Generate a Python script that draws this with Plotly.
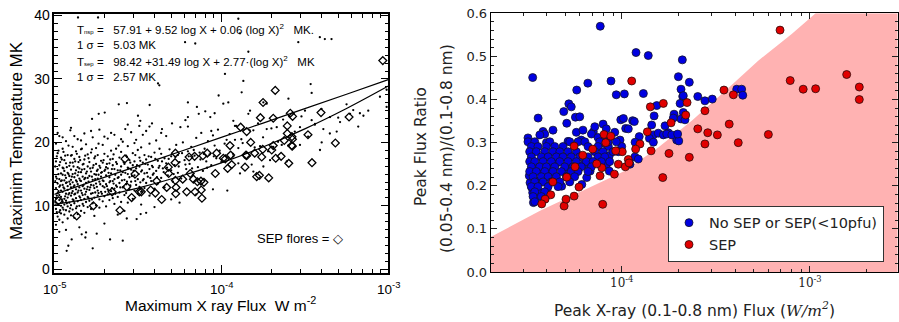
import plotly.graph_objects as go

W, H = 899, 322

# ---------------- Left panel data (log10 flux, temperature MK) ----------------
nonsep_points = [
    (-4.99, 7.0), (-4.99, 9.5), (-4.99, 11.2), (-4.99, 12.8), (-4.99, 14.6), (-4.99, 17.0), (-4.99, 19.8),
    (-4.98, 8.3), (-4.98, 10.3), (-4.98, 12.0), (-4.98, 13.5), (-4.98, 15.8), (-4.98, 18.3), (-4.98, 21.5),
    (-4.97, 7.8), (-4.97, 9.0), (-4.97, 10.9), (-4.97, 11.7), (-4.97, 13.0), (-4.97, 14.2), (-4.97, 16.4), (-4.97, 21.0),
    (-4.96, 8.8), (-4.96, 10.0), (-4.96, 11.4), (-4.96, 12.4), (-4.96, 13.9), (-4.96, 15.1), (-4.96, 17.6),
    (-4.95, 7.4), (-4.95, 9.7), (-4.95, 10.6), (-4.95, 12.2), (-4.95, 13.3), (-4.95, 14.9), (-4.95, 16.0), (-4.95, 19.0), (-4.95, 20.8),
    (-4.94, 8.6), (-4.94, 10.2), (-4.94, 11.1), (-4.94, 12.7), (-4.94, 14.0), (-4.94, 15.5), (-4.94, 17.2),
    (-4.93, 9.3), (-4.93, 10.8), (-4.93, 11.9), (-4.93, 13.6), (-4.93, 14.4), (-4.93, 16.7), (-4.93, 20.2),
    (-4.92, 8.0), (-4.92, 9.9), (-4.92, 11.3), (-4.92, 12.5), (-4.92, 13.1), (-4.92, 15.2), (-4.92, 18.0),
    (-4.91, 9.1), (-4.91, 10.5), (-4.91, 12.0), (-4.91, 13.8), (-4.91, 14.7), (-4.91, 16.3),
    (-4.90, 8.5), (-4.90, 10.1), (-4.90, 11.6), (-4.90, 12.9), (-4.90, 14.1), (-4.90, 15.7), (-4.90, 17.9), (-4.90, 22.3),
    (-4.89, 9.4), (-4.89, 11.0), (-4.89, 12.3), (-4.89, 13.7), (-4.89, 15.0), (-4.89, 16.8), (-4.89, 19.3),
    (-4.88, 8.1), (-4.88, 10.4), (-4.88, 11.8), (-4.88, 13.2), (-4.88, 14.5), (-4.88, 17.4), (-4.88, 21.0),
    (-4.87, 9.6), (-4.87, 11.2), (-4.87, 12.6), (-4.87, 14.0), (-4.87, 15.6), (-4.87, 18.6),
    (-4.86, 8.7), (-4.86, 10.7), (-4.86, 12.1), (-4.86, 13.4), (-4.86, 14.8), (-4.86, 16.1), (-4.86, 20.5),
    (-4.85, 10.0), (-4.85, 11.5), (-4.85, 12.9), (-4.85, 14.3), (-4.85, 15.9), (-4.85, 17.7),
    (-4.84, 9.2), (-4.84, 10.9), (-4.84, 12.4), (-4.84, 13.9), (-4.84, 15.3), (-4.84, 18.9), (-4.84, 20.3),
    (-4.83, 10.3), (-4.83, 11.7), (-4.83, 13.1), (-4.83, 14.6), (-4.83, 16.5),
    (-4.82, 8.9), (-4.82, 11.1), (-4.82, 12.7), (-4.82, 14.2), (-4.82, 15.8), (-4.82, 17.3), (-4.82, 21.4),
    (-4.81, 10.6), (-4.81, 12.2), (-4.81, 13.6), (-4.81, 15.1), (-4.81, 19.7),
    (-4.80, 9.8), (-4.80, 11.4), (-4.80, 13.0), (-4.80, 14.4), (-4.80, 16.2), (-4.80, 18.1),
    (-4.79, 10.8), (-4.79, 12.5), (-4.79, 14.7), (-4.79, 16.9),
    (-4.78, 9.5), (-4.78, 11.9), (-4.78, 13.3), (-4.78, 15.4), (-4.78, 18.4), (-4.78, 21.8),
    (-4.77, 10.4), (-4.77, 12.0), (-4.77, 14.1), (-4.77, 16.0), (-4.77, 20.8),
    (-4.76, 8.4), (-4.76, 11.3), (-4.76, 12.8), (-4.76, 15.0), (-4.76, 17.5),
    (-4.75, 10.1), (-4.75, 13.5), (-4.75, 14.9), (-4.75, 16.6), (-4.75, 19.1),
    (-4.74, 11.6), (-4.74, 12.4), (-4.74, 14.3), (-4.74, 15.7), (-4.74, 18.0),
    (-4.73, 9.7), (-4.73, 11.0), (-4.73, 13.8), (-4.73, 16.3), (-4.73, 22.0),
    (-4.72, 12.2), (-4.72, 14.6), (-4.72, 15.2), (-4.72, 17.1),
    (-4.71, 10.7), (-4.71, 13.1), (-4.71, 14.0), (-4.71, 16.8), (-4.71, 19.6),
    (-4.70, 11.5), (-4.70, 12.9), (-4.70, 15.5), (-4.70, 18.2), (-4.70, 20.9),
    (-4.69, 9.9), (-4.69, 13.4), (-4.69, 14.8), (-4.69, 16.1),
    (-4.68, 11.8), (-4.68, 12.6), (-4.68, 15.9), (-4.68, 17.8), (-4.68, 20.6),
    (-4.67, 10.9), (-4.67, 13.7), (-4.67, 14.5), (-4.67, 16.7),
    (-4.66, 12.3), (-4.66, 15.1), (-4.66, 18.7), (-4.66, 21.5),
    (-4.65, 11.2), (-4.65, 13.9), (-4.65, 16.4), (-4.65, 17.4),
    (-4.64, 10.3), (-4.64, 12.7), (-4.64, 14.2), (-4.64, 15.8), (-4.64, 21.2),
    (-4.63, 13.2), (-4.63, 16.9), (-4.63, 19.0),
    (-4.62, 11.4), (-4.62, 14.4), (-4.62, 15.6),
    (-4.61, 12.1), (-4.61, 13.6), (-4.61, 17.6),
    (-4.60, 10.6), (-4.60, 14.9), (-4.60, 16.2), (-4.60, 18.5), (-4.60, 20.5),
    (-4.59, 12.9), (-4.59, 15.3), (-4.59, 20.1),
    (-4.58, 11.7), (-4.58, 14.1), (-4.58, 16.6),
    (-4.57, 13.4), (-4.57, 17.9), (-4.57, 12.0),
    (-4.56, 10.5), (-4.56, 15.0), (-4.56, 16.0), (-4.56, 19.4), (-4.56, 22.8),
    (-4.55, 12.6), (-4.55, 14.5), (-4.55, 17.2),
    (-4.54, 13.8), (-4.54, 15.7), (-4.54, 21.6),
    (-4.53, 11.1), (-4.53, 16.4), (-4.53, 18.3),
    (-4.52, 12.4), (-4.52, 14.8), (-4.52, 17.0), (-4.52, 19.9),
    (-4.51, 13.3), (-4.51, 15.9), (-4.51, 20.4),
    (-4.50, 11.9), (-4.50, 14.2), (-4.50, 18.8),
    (-4.49, 13.0), (-4.49, 16.2), (-4.49, 17.6),
    (-4.48, 12.2), (-4.48, 15.4), (-4.48, 19.2), (-4.48, 10.2),
    (-4.47, 14.0), (-4.47, 16.8), (-4.47, 21.2),
    (-4.46, 12.8), (-4.46, 15.1), (-4.46, 18.0),
    (-4.45, 13.6), (-4.45, 17.3), (-4.45, 21.8), (-4.45, 8.9),
    (-4.44, 14.6), (-4.44, 16.5),
    (-4.43, 11.6), (-4.43, 15.8), (-4.43, 19.8), (-4.43, 22.5),
    (-4.42, 13.9), (-4.42, 17.7),
    (-4.41, 14.9), (-4.41, 16.1),
    (-4.40, 12.7), (-4.40, 18.4), (-4.40, 9.8),
    (-4.39, 15.5), (-4.39, 20.3), (-4.38, 13.5), (-4.38, 17.1), (-4.37, 16.3), (-4.37, 19.0),
    (-4.36, 14.4), (-4.36, 18.2), (-4.36, 21.5), (-4.35, 15.9), (-4.34, 12.9), (-4.34, 17.5),
    (-4.33, 16.7), (-4.33, 21.0), (-4.32, 14.8), (-4.31, 18.9), (-4.30, 15.6), (-4.30, 17.8), (-4.30, 11.0),
    (-4.29, 13.8), (-4.28, 16.4), (-4.27, 19.6), (-4.26, 15.2), (-4.26, 18.0), (-4.25, 16.9), (-4.25, 10.5),
    (-4.24, 14.3), (-4.23, 20.0), (-4.22, 17.2), (-4.21, 15.8), (-4.20, 18.6), (-4.20, 22.5),
    (-4.19, 16.6), (-4.18, 19.3), (-4.17, 14.9), (-4.16, 17.9), (-4.15, 20.7), (-4.15, 11.8), (-4.14, 16.1),
    (-4.13, 18.4), (-4.12, 21.5), (-4.11, 15.5), (-4.10, 19.0), (-4.09, 17.0), (-4.08, 20.2), (-4.07, 18.1),
    (-4.06, 16.4), (-4.05, 21.1), (-4.05, 12.6), (-4.04, 19.5), (-4.03, 17.5), (-4.02, 22.0), (-4.01, 18.7), (-4.00, 16.9),
    (-3.98, 19.8), (-3.95, 21.3), (-3.93, 18.2), (-3.91, 22.6), (-3.88, 20.5), (-3.86, 17.6), (-3.83, 21.9),
    (-3.80, 19.2), (-3.78, 23.0), (-3.75, 20.8), (-3.72, 18.6), (-3.70, 22.2), (-3.66, 20.1), (-3.63, 23.6),
    (-3.60, 19.5), (-3.56, 21.7), (-3.52, 24.1), (-3.48, 20.9), (-3.44, 22.8), (-3.40, 25.3), (-3.35, 21.4),
    (-3.30, 23.9), (-3.25, 26.0), (-3.18, 22.5), (-3.12, 25.0), (-3.05, 27.2),
    (-4.614, 26.0), (-4.565, 26.2), (-4.429, 25.9), (-4.200, 26.3), (-4.146, 25.6), (-4.016, 27.4),
    (-4.774, 23.7), (-4.734, 24.5), (-4.698, 24.7), (-4.499, 24.2), (-4.485, 23.4), (-4.491, 22.6),
    (-4.415, 23.0), (-4.379, 29.3), (-4.371, 29.0), (-4.156, 35.6), (-4.738, 39.7), (-4.858, 39.7),
    (-4.904, 21.9), (-4.200, 24.0), (-4.135, 24.5), (-4.096, 24.9), (-4.066, 24.0), (-4.040, 24.6),
    (-4.215, 23.5), (-4.295, 23.0), (-4.060, 21.8), (-4.355, 22.1), (-4.245, 22.4), (-4.575, 22.1),
    (-3.898, 39.5), (-3.539, 35.8), (-3.410, 36.6), (-3.380, 36.3), (-3.340, 36.3), (-3.838, 34.3),
    (-4.217, 35.8), (-3.888, 37.2), (-3.978, 30.8), (-3.868, 29.7), (-3.878, 27.9), (-3.465, 29.2),
    (-3.598, 26.9), (-3.349, 24.0), (-3.289, 23.2), (-3.229, 24.5), (-3.149, 24.2), (-3.499, 25.0),
    (-3.459, 23.5), (-3.439, 22.9), (-3.748, 26.3), (-3.728, 26.1), (-3.828, 25.0), (-3.838, 24.5),
    (-3.928, 23.4), (-3.958, 26.3), (-3.988, 26.1), (-3.918, 22.6), (-3.808, 21.9), (-3.728, 22.1),
    (-3.668, 22.4), (-3.529, 22.4), (-3.389, 22.1), (-3.010, 28.3), (-3.210, 25.1), (-3.170, 24.6),
    (-3.459, 27.8), (-3.010, 25.6),
    (-3.309, 21.7), (-3.399, 20.0), (-3.529, 19.6), (-3.638, 19.6), (-3.689, 19.3), (-3.768, 19.4),
    (-3.898, 19.1), (-3.918, 20.4), (-3.872, 19.9), (-3.968, 20.4), (-3.928, 17.8), (-3.898, 16.7),
    (-3.818, 16.5), (-3.708, 17.2), (-3.608, 17.0), (-3.808, 15.4), (-3.964, 12.4), (-3.888, 15.1),
    (-3.748, 16.2), (-3.409, 18.8),
    (-4.483, 8.7), (-4.507, 7.9), (-4.566, 8.0), (-4.666, 4.7), (-4.590, 4.5), (-4.810, 5.8),
    (-4.836, 5.5), (-4.896, 4.7), (-4.916, 3.7), (-4.926, 2.9), (-4.770, 3.3), (-4.746, 5.6),
    (-4.814, 5.0), (-4.58, 9.2), (-4.62, 8.6), (-4.70, 7.2), (-4.85, 6.6), (-4.93, 6.2), (-4.97, 5.9),
    (-4.995, 10.6), (-4.995, 13.9), (-4.995, 16.2), (-4.985, 9.0), (-4.985, 11.6), (-4.985, 14.3), (-4.985, 17.8),
    (-4.975, 12.3), (-4.975, 15.0), (-4.975, 18.7), (-4.965, 9.3), (-4.965, 13.2), (-4.965, 16.9),
    (-4.955, 11.0), (-4.955, 14.0), (-4.955, 17.3), (-4.945, 9.4), (-4.945, 12.9), (-4.945, 15.9), (-4.945, 18.5),
    (-4.935, 11.5), (-4.935, 14.8), (-4.935, 17.9), (-4.925, 10.4), (-4.925, 13.7), (-4.925, 16.1),
    (-4.915, 11.8), (-4.915, 15.0), (-4.915, 19.5), (-4.905, 9.6), (-4.905, 13.4), (-4.905, 16.8),
    (-4.895, 12.0), (-4.895, 14.6), (-4.895, 18.0), (-4.885, 10.9), (-4.885, 13.0), (-4.885, 16.2),
    (-4.875, 11.9), (-4.875, 15.1), (-4.875, 17.0), (-4.865, 9.9), (-4.865, 13.8), (-4.865, 18.2),
    (-4.855, 12.4), (-4.855, 15.3), (-4.855, 16.9), (-4.845, 11.3), (-4.845, 14.0), (-4.845, 17.2),
    (-4.835, 12.0), (-4.835, 15.7), (-4.835, 19.0), (-4.825, 10.0), (-4.825, 13.3), (-4.825, 16.6),
    (-4.815, 11.8), (-4.815, 14.4), (-4.815, 17.9), (-4.805, 12.6), (-4.805, 15.4), (-4.795, 11.2),
    (-4.795, 13.8), (-4.795, 17.5), (-4.785, 12.9), (-4.785, 15.9), (-4.775, 11.0), (-4.775, 14.6),
    (-4.775, 18.9), (-4.765, 13.2), (-4.765, 16.4), (-4.755, 12.1), (-4.755, 14.2), (-4.755, 17.8),
    (-4.745, 13.0), (-4.745, 15.5), (-4.735, 12.0), (-4.735, 14.9), (-4.735, 19.8), (-4.725, 13.4),
    (-4.725, 16.0), (-4.715, 11.9), (-4.715, 15.3), (-4.705, 13.9), (-4.705, 17.2), (-4.695, 12.2),
    (-4.695, 15.7), (-4.685, 13.1), (-4.685, 16.6), (-4.675, 12.4), (-4.675, 15.2), (-4.665, 13.9),
    (-4.665, 17.3), (-4.655, 12.8), (-4.655, 15.8), (-4.645, 13.5), (-4.645, 18.1), (-4.635, 11.9),
    (-4.635, 14.9), (-4.625, 13.0), (-4.625, 16.6), (-4.615, 14.5), (-4.615, 19.5), (-4.605, 12.9),
    (-4.605, 15.6), (-4.595, 14.0), (-4.585, 13.0), (-4.585, 16.9), (-4.575, 15.2), (-4.565, 13.8),
    (-4.565, 17.7), (-4.555, 15.9), (-4.545, 13.2), (-4.545, 16.8), (-4.535, 14.7), (-4.525, 15.5),
    (-4.515, 13.9), (-4.515, 18.0), (-4.505, 16.4), (-4.495, 15.0), (-4.485, 13.7), (-4.485, 17.1),
    (-4.475, 15.6), (-4.465, 14.2), (-4.455, 16.6), (-4.445, 15.2), (-4.435, 17.8), (-4.425, 14.4),
    (-4.415, 16.3), (-4.405, 15.1), (-4.395, 17.4), (-4.385, 14.5), (-4.375, 16.0), (-4.355, 17.0),
    (-4.345, 15.3), (-4.325, 16.0), (-4.315, 17.4), (-4.285, 15.0), (-4.275, 17.7), (-4.255, 16.2),
    (-4.235, 18.3), (-4.215, 16.5), (-4.195, 17.8), (-4.175, 15.9), (-4.165, 18.8), (-4.125, 17.3),
    (-4.105, 18.2), (-4.085, 16.0), (-4.045, 17.8),
]

sep_flare_points = [
    (-3.033, 32.9), (-3.750, 26.3), (-3.677, 28.2), (-3.766, 23.9), (-3.689, 23.8), (-3.587, 24.6),
    (-3.573, 24.1), (-3.403, 24.7), (-3.235, 24.0), (-3.884, 22.4), (-3.848, 21.7), (-3.605, 22.6),
    (-3.948, 19.5), (-3.824, 20.0), (-3.577, 20.9), (-3.574, 20.5), (-3.481, 21.2), (-3.317, 19.9),
    (-3.605, 21.4), (-3.578, 19.5), (-3.689, 19.5), (-3.752, 18.9), (-3.852, 18.0), (-3.800, 18.3),
    (-3.758, 17.7), (-3.642, 17.8), (-3.944, 18.0), (-3.976, 17.4), (-4.028, 18.3), (-4.084, 18.3),
    (-4.110, 17.9), (-4.160, 17.8), (-4.193, 17.7), (-4.275, 18.3), (-4.577, 17.4),
    (-3.858, 16.1), (-3.788, 14.6), (-3.716, 14.4), (-3.596, 16.7), (-3.457, 16.8), (-3.938, 16.5),
    (-3.962, 15.9), (-4.036, 15.1), (-4.122, 13.9), (-4.120, 12.5), (-4.157, 12.2), (-4.207, 12.2),
    (-4.273, 11.9), (-4.167, 14.2), (-4.231, 14.2), (-4.271, 12.9), (-4.327, 12.9), (-4.387, 13.9),
    (-4.357, 11.0), (-4.395, 12.0), (-4.423, 12.5), (-4.479, 12.2), (-4.537, 11.3), (-4.607, 9.3),
    (-4.517, 15.0), (-4.566, 13.0), (-4.866, 8.4), (-4.766, 10.0), (-4.317, 16.1), (-4.277, 16.8),
    (-4.974, 10.8), (-4.654, 12.2), (-4.491, 12.2), (-4.275, 14.0), (-4.116, 11.2), (-4.143, 13.8),
    (-4.104, 13.7), (-4.186, 15.1), (-4.315, 15.1), (-3.988, 17.5), (-3.848, 17.9), (-3.698, 18.8),
    (-3.674, 17.5), (-3.623, 20.3), (-3.575, 19.4), (-3.772, 14.8),
]

# Fit curves (log10 flux, MK)
fit_log_flux = [-5.0, -4.75, -4.5, -4.25, -4.0, -3.75, -3.5, -3.25, -3.0]
fit_nonsep_temp = [11.81, 14.04, 16.29, 18.53, 20.79, 23.05, 25.33, 27.60, 29.89]
fit_sep_temp = [10.22, 11.34, 12.80, 14.62, 16.78, 19.28, 22.13, 25.34, 28.88]

left_tick_exponents = [-5, -4, -3]

# ---------------- Right panel data (log10 flux, flux ratio) ----------------
no_sep_points = [
    (-4.114, 0.570), (-4.473, 0.451), (-3.924, 0.509), (-3.859, 0.502), (-3.678, 0.492), (-3.699, 0.453),
    (-3.641, 0.440), (-4.057, 0.443), (-4.180, 0.438), (-4.239, 0.422), (-3.685, 0.424), (-3.676, 0.407),
    (-3.596, 0.407), (-3.558, 0.397), (-3.519, 0.401), (-3.986, 0.413), (-4.029, 0.411), (-3.885, 0.414),
    (-3.389, 0.424), (-3.363, 0.424), (-3.357, 0.410), (-3.690, 0.391), (-3.673, 0.370), (-3.685, 0.355),
    (-3.828, 0.362), (-3.841, 0.341), (-3.814, 0.386), (-4.005, 0.353), (-3.991, 0.356), (-3.979, 0.333),
    (-3.942, 0.351), (-3.907, 0.314), (-3.912, 0.297), (-3.832, 0.318), (-3.806, 0.322), (-3.779, 0.318),
    (-3.753, 0.323), (-3.722, 0.366), (-3.770, 0.339), (-3.708, 0.306), (-3.697, 0.304), (-3.853, 0.310),
    (-4.009, 0.306), (-4.000, 0.291), (-4.018, 0.279), (-4.151, 0.325), (-4.106, 0.308), (-4.089, 0.298),
    (-4.071, 0.291), (-4.066, 0.270), (-3.930, 0.267),
    (-4.281, 0.390), (-4.268, 0.383), (-4.308, 0.372), (-4.246, 0.359), (-4.223, 0.360), (-4.444, 0.357),
    (-4.292, 0.345), (-4.365, 0.329), (-4.418, 0.326), (-4.409, 0.320), (-4.435, 0.318), (-4.498, 0.311),
    (-4.241, 0.324), (-4.206, 0.329), (-4.143, 0.337), (-4.099, 0.343), (-4.082, 0.332), (-4.037, 0.324),
    (-4.161, 0.320), (-4.126, 0.312), (-4.285, 0.303), (-4.215, 0.306), (-4.400, 0.300),
    (-3.933, 0.349), (-3.965, 0.332), (-3.726, 0.357), (-3.664, 0.353), (-3.929, 0.301), (-3.912, 0.262),
    (-3.956, 0.250), (-3.832, 0.301), (-3.761, 0.320), (-3.734, 0.318), (-3.703, 0.320), (-3.673, 0.409),
    (-4.469, 0.161), (-4.460, 0.172), (-4.473, 0.184), (-4.478, 0.196), (-4.487, 0.207), (-4.491, 0.223),
    (-4.478, 0.234), (-4.451, 0.244), (-4.416, 0.234), (-4.390, 0.223), (-4.381, 0.242), (-4.345, 0.253),
    (-4.319, 0.199), (-4.310, 0.234), (-4.275, 0.242), (-4.212, 0.203), (-4.186, 0.219), (-4.168, 0.234),
    (-4.200, 0.250), (-4.080, 0.250), (-4.066, 0.234), (-4.443, 0.211), (-4.434, 0.184), (-4.398, 0.184),
    (-4.451, 0.199),
    (-4.498, 0.302), (-4.462, 0.302), (-4.382, 0.302), (-4.276, 0.302), (-4.232, 0.302), (-4.196, 0.302),
    (-4.117, 0.302), (-4.073, 0.302), (-4.029, 0.302),
    (-4.480, 0.291), (-4.445, 0.291), (-4.400, 0.291), (-4.356, 0.291), (-4.312, 0.291), (-4.179, 0.291),
    (-4.126, 0.291),
    (-4.489, 0.279), (-4.454, 0.279), (-4.409, 0.279), (-4.365, 0.279), (-4.329, 0.279), (-4.285, 0.279),
    (-4.241, 0.279), (-4.143, 0.279), (-4.099, 0.279), (-4.046, 0.279),
    (-4.480, 0.267), (-4.427, 0.267), (-4.391, 0.267), (-4.347, 0.267), (-4.312, 0.267), (-4.268, 0.267),
    (-4.223, 0.267), (-4.179, 0.267), (-4.126, 0.267), (-4.090, 0.267),
    (-4.489, 0.256), (-4.462, 0.256), (-4.418, 0.256), (-4.374, 0.256), (-4.329, 0.256), (-4.285, 0.256),
    (-4.241, 0.256), (-4.188, 0.256), (-4.152, 0.256), (-4.108, 0.256), (-4.064, 0.256),
    (-4.480, 0.244), (-4.436, 0.244), (-4.400, 0.244), (-4.356, 0.244), (-4.303, 0.244), (-4.259, 0.244),
    (-4.215, 0.244), (-4.161, 0.244),
    (-4.489, 0.233), (-4.454, 0.233), (-4.409, 0.233), (-4.365, 0.233), (-4.321, 0.233), (-4.268, 0.233),
    (-4.232, 0.233), (-4.179, 0.233),
    (-4.471, 0.221), (-4.427, 0.221), (-4.391, 0.221), (-4.347, 0.221), (-4.294, 0.221), (-4.250, 0.221),
    (-4.462, 0.209), (-4.418, 0.209), (-4.374, 0.209), (-4.329, 0.209), (-4.276, 0.209),
    (-4.480, 0.198), (-4.445, 0.198), (-4.391, 0.198), (-4.338, 0.198),
    (-4.462, 0.186), (-4.409, 0.186), (-4.471, 0.175), (-4.427, 0.175), (-4.462, 0.163),
]

sep_points = [
    (-3.947, 0.443), (-3.159, 0.561), (-2.805, 0.458), (-3.105, 0.444), (-3.036, 0.424), (-2.970, 0.425),
    (-2.738, 0.429), (-2.738, 0.400), (-3.457, 0.422), (-3.407, 0.411), (-3.779, 0.391), (-3.848, 0.383),
    (-3.653, 0.393), (-3.660, 0.364), (-3.738, 0.346), (-3.558, 0.374), (-3.596, 0.332), (-3.543, 0.323),
    (-3.558, 0.297), (-3.492, 0.318), (-3.429, 0.343), (-3.381, 0.300), (-3.221, 0.319), (-3.864, 0.325),
    (-3.903, 0.297), (-3.926, 0.285), (-3.997, 0.279), (-4.032, 0.281), (-4.085, 0.300), (-4.094, 0.319),
    (-4.058, 0.315), (-4.253, 0.292), (-4.207, 0.271), (-4.154, 0.285), (-3.749, 0.275), (-3.641, 0.266),
    (-3.965, 0.261), (-3.844, 0.281),
    (-3.782, 0.219), (-4.101, 0.157), (-4.306, 0.153), (-4.296, 0.169), (-4.253, 0.176), (-4.227, 0.197),
    (-4.366, 0.209), (-4.377, 0.179), (-4.407, 0.169), (-4.425, 0.158), (-4.292, 0.220), (-4.248, 0.244),
    (-4.115, 0.223), (-4.106, 0.242), (-4.133, 0.251), (-4.039, 0.227), (-4.018, 0.250), (-3.981, 0.244),
    (-3.961, 0.253),
]

# Boundary of shaded region (log10 flux, ratio)
boundary_log_flux = [-4.696, -4.434, -3.982, -3.806, -3.628, -3.451, -3.275, -3.097, -2.991, -2.970]
boundary_ratio = [0.081, 0.142, 0.235, 0.289, 0.351, 0.420, 0.490, 0.552, 0.594, 0.600]

left_xrange = [-5.0, -3.0]
left_yrange = [-0.55, 40.25]
right_xrange = [-4.696, -2.534]
right_yrange = [0.0, 0.6]

log_minor_vals = [m * 10 ** e for e in (-5, -4, -3) for m in range(2, 10)]


def px(x):
    return x / W


def py(y):
    return 1 - y / H


def unz(points):
    return [10 ** p[0] for p in points], [p[1] for p in points]


fig = go.Figure()

# ---- left panel ----
x, y = unz(nonsep_points)
fig.add_trace(go.Scatter(x=x, y=y, mode="markers", xaxis="x", yaxis="y", showlegend=False,
                         marker=dict(size=2.3, color="black"), hoverinfo="skip"))
x, y = unz(sep_flare_points)
fig.add_trace(go.Scatter(x=x, y=y, mode="markers", xaxis="x", yaxis="y", showlegend=False,
                         marker=dict(symbol="diamond-open", size=6, color="black", line=dict(width=1.3)),
                         hoverinfo="skip"))
fx = [10 ** v for v in fit_log_flux]
fig.add_trace(go.Scatter(x=fx, y=fit_nonsep_temp, mode="lines", line=dict(color="black", width=1.2, shape="spline"),
                         xaxis="x", yaxis="y", showlegend=False, hoverinfo="skip"))
fig.add_trace(go.Scatter(x=fx, y=fit_sep_temp, mode="lines", line=dict(color="black", width=1.2, shape="spline"),
                         xaxis="x", yaxis="y", showlegend=False, hoverinfo="skip"))

# ---- right panel ----
bx = [10 ** right_xrange[0]] + [10 ** v for v in boundary_log_flux] + [10 ** right_xrange[1], 10 ** right_xrange[1], 10 ** right_xrange[0]]
by = [0.0] + boundary_ratio + [right_yrange[1], 0.0, 0.0]
fig.add_trace(go.Scatter(x=bx, y=by, mode="lines", fill="toself", fillcolor="rgb(255,178,178)",
                         line=dict(width=0), xaxis="x2", yaxis="y2", showlegend=False, hoverinfo="skip"))
x, y = unz(no_sep_points)
fig.add_trace(go.Scatter(x=x, y=y, mode="markers", name="No SEP or SEP(&lt;10pfu)", xaxis="x2", yaxis="y2",
                         marker=dict(size=8, color="rgb(0,0,225)", line=dict(color="rgb(20,20,40)", width=0.8))))
x, y = unz(sep_points)
fig.add_trace(go.Scatter(x=x, y=y, mode="markers", name="SEP", xaxis="x2", yaxis="y2",
                         marker=dict(size=8, color="rgb(225,0,0)", line=dict(color="rgb(40,10,10)", width=0.8))))

left_font = dict(family="Liberation Sans, Arial, sans-serif", color="black")
right_font = dict(family="DejaVu Sans, sans-serif", color="#222")

common_axis = dict(showgrid=False, zeroline=False, showline=True, mirror="allticks", ticks="inside",
                   automargin=False)

fig.update_layout(
    template="none",
    width=W, height=H, margin=dict(l=0, r=0, t=0, b=0, pad=0, autoexpand=False),
    paper_bgcolor="white", plot_bgcolor="white",
    xaxis=dict(**common_axis, type="log", range=left_xrange, domain=[px(54.3), px(388.3)],
               linecolor="black", linewidth=1.5, ticklen=8, tickwidth=1.2, tickcolor="black",
               tickvals=[10.0 ** e for e in left_tick_exponents], showticklabels=False, anchor="y",
               minor=dict(ticks="inside", ticklen=4, tickcolor="black", tickwidth=1, showgrid=False,
                          tickmode="array", tickvals=log_minor_vals)),
    yaxis=dict(**common_axis, range=left_yrange, domain=[py(272.7), py(14)],
               linecolor="black", linewidth=1.5, ticklen=8, tickwidth=1.2, tickcolor="black",
               tickvals=[0, 10, 20, 30, 40], tickfont=dict(size=14, **left_font), anchor="x",
               minor=dict(ticks="inside", ticklen=4, tickcolor="black", dtick=1.25, tick0=0, showgrid=False)),
    xaxis2=dict(**common_axis, type="log", range=right_xrange, domain=[px(490.7), px(897.7)],
                linecolor="black", linewidth=1, ticklen=6, tickwidth=1, tickcolor="#222",
                tickvals=[1e-4, 1e-3], ticktext=["10<sup>-4</sup>", "10<sup>-3</sup>"],
                tickfont=dict(size=12, family="DejaVu Serif, serif", color="#222"), anchor="y2",
                minor=dict(ticks="inside", ticklen=3, tickcolor="#222", showgrid=False,
                           tickmode="array", tickvals=log_minor_vals)),
    yaxis2=dict(**common_axis, range=right_yrange, domain=[py(272), py(13.3)],
                linecolor="black", linewidth=1, ticklen=6, tickwidth=1, tickcolor="#222",
                tickvals=[0, 0.1, 0.2, 0.3, 0.4, 0.5, 0.6], tickformat=".1f",
                tickfont=dict(size=13, **right_font), anchor="x2",
                minor=dict(ticks="inside", ticklen=3, tickcolor="#222", dtick=0.02, tick0=0, showgrid=False)),
    legend=dict(x=px(884), y=py(261.7), xanchor="right", yanchor="bottom",
                bgcolor="white", bordercolor="#333", borderwidth=1,
                font=dict(size=14.5, family="DejaVu Sans, sans-serif", color="#222")),
)

nb = "\u00a0"
ann = [
    dict(x=px(16), y=py(141), text="Maximim Temperature MK", textangle=-90,
         font=dict(size=17, **left_font)),
    dict(x=px(220), y=py(303.5), text=f"Maximum X ray Flux{nb}{nb}W m<sup>-2</sup>",
         font=dict(size=15.5, **left_font)),
    dict(x=px(421), y=py(147), text="Peak Flux Ratio", textangle=-90,
         font=dict(size=15.5, **right_font)),
    dict(x=px(447), y=py(149), text="(0.05-0.4 nm)/(0.1-0.8 nm)", textangle=-90,
         font=dict(size=15.5, **right_font)),
    dict(x=px(694), y=py(309),
         text="Peak X-ray (0.1-0.8 nm) Flux (<span style='font-family:DejaVu Serif'><i>W/m<sup>2</sup></i></span>)",
         font=dict(size=15.5, **right_font)),
]
# left x tick labels placed at tick positions (data coords)
for e in left_tick_exponents:
    ann.append(dict(x=e, xref="x", y=py(277), yanchor="top", text=f"10<sup>{e}</sup>",
                    font=dict(size=13.5, **left_font)))

eq_font = dict(size=11.5, **left_font)
sm = "<span style='font-size:6px'>"
eq_blocks = [
    (36.8, f"T{sm}nsp</span> ={nb}{nb} 57.91 + 9.52 log X + 0.06 (log X)<sup>2</sup>{nb}{nb} MK.<br>"
           f"1 σ ={nb}{nb} 5.03 MK"),
    (68.8, f"T{sm}sep</span> ={nb}{nb} 98.42 +31.49 log X + 2.77·(log X)<sup>2</sup>{nb}{nb} MK<br>"
           f"1 σ ={nb}{nb} 2.57 MK"),
]
for yy, t in eq_blocks:
    ann.append(dict(x=px(75), y=py(yy), text=t, xanchor="left", align="left", font=eq_font))
ann.append(dict(x=px(255), y=py(238.5), text="SEP flores = ◇", xanchor="left",
                font=dict(size=13, **left_font)))

for a in ann:
    a.setdefault("xanchor", "center")
    a.setdefault("yanchor", "middle")
    a.setdefault("xref", "paper")
    a.update(yref="paper", showarrow=False)
fig.update_layout(annotations=ann)

fig.write_html("out.html", config={"displayModeBar": False},
               post_script="document.body.style.margin='0px';")
